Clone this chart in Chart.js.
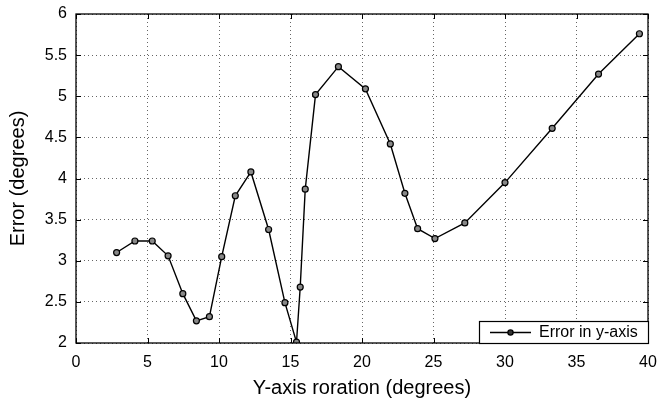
<!DOCTYPE html>
<html><head><meta charset="utf-8">
<script src="https://cdn.jsdelivr.net/npm/chart.js@4/dist/chart.umd.min.js"></script>
<style>html,body{margin:0;padding:0;background:#fff}#wrap{width:660px;height:400px}</style>
</head><body><div id="wrap"><canvas id="c" width="660" height="400"></canvas></div>
<script>
const rotationDeg = [2.84,4.12,5.33,6.44,7.47,8.42,9.33,10.19,11.14,12.23,13.47,14.61,15.42,15.68,16.03,16.75,18.35,20.24,21.98,23.0,23.89,25.10,27.19,30.0,33.3,36.54,39.4];
const errorY = [3.10,3.24,3.24,3.06,2.60,2.27,2.32,3.05,3.79,4.08,3.38,2.49,2.01,2.68,3.87,5.02,5.36,5.09,4.42,3.82,3.39,3.27,3.46,3.95,4.61,5.27,5.76];
const xTicks = [0,5,10,15,20,25,30,35,40];
const yTicks = [2,2.5,3,3.5,4,4.5,5,5.5,6];
const seriesLabel = 'Error in y-axis';
const xTitle = 'Y-axis roration (degrees)';
const yTitle = 'Error (degrees)';

const FONT = '"Liberation Sans", Arial, sans-serif';
const points = rotationDeg.map((x,i)=>({x, y: errorY[i]}));

const framePlugin = {
  id: 'frame',
  afterDraw(chart) {
    const {ctx, chartArea: a, scales} = chart;
    ctx.save();
    ctx.strokeStyle = '#000'; ctx.lineWidth = 1;
    ctx.beginPath();
    const L = 5;
    xTicks.forEach(v => {
      const px = Math.round(scales.x.getPixelForValue(v)) + 0.5;
      ctx.moveTo(px, a.bottom); ctx.lineTo(px, a.bottom - L);
      ctx.moveTo(px, a.top); ctx.lineTo(px, a.top + L);
    });
    yTicks.forEach(v => {
      const py = Math.round(scales.y.getPixelForValue(v)) + 0.5;
      ctx.moveTo(a.left, py); ctx.lineTo(a.left + L, py);
      ctx.moveTo(a.right, py); ctx.lineTo(a.right - L, py);
    });
    ctx.stroke();
    ctx.lineWidth = 1.3;
    ctx.strokeRect(a.left, a.top, a.right - a.left, a.bottom - a.top);
    // legend
    const bw = 169, bh = 22;
    const bx = a.right - bw, by = a.bottom - bh;
    ctx.fillStyle = '#fff';
    ctx.fillRect(bx, by, bw, bh);
    ctx.lineWidth = 1.2;
    ctx.strokeRect(bx + 0.5, by + 0.5, bw, bh);
    const cy = by + bh / 2 + 0.5;
    ctx.lineWidth = 1.3;
    ctx.beginPath(); ctx.moveTo(bx + 11, cy); ctx.lineTo(bx + 52, cy); ctx.stroke();
    ctx.beginPath(); ctx.arc(bx + 31.5, cy, 2.6, 0, Math.PI * 2);
    ctx.fillStyle = '#333'; ctx.fill(); ctx.stroke();
    ctx.fillStyle = '#000';
    ctx.font = '16px ' + FONT;
    ctx.textBaseline = 'middle'; ctx.textAlign = 'left';
    ctx.fillText(seriesLabel, bx + 60, cy);
    ctx.restore();
  }
};

new Chart(document.getElementById('c'), {
  type: 'scatter',
  data: { datasets: [{
    label: seriesLabel,
    data: points,
    showLine: true,
    borderColor: '#000',
    borderWidth: 1.4,
    pointRadius: 3,
    pointBorderWidth: 1.2,
    pointBorderColor: '#000',
    pointBackgroundColor: '#888',
    tension: 0
  }]},
  options: {
    responsive: false,
    animation: false,
    devicePixelRatio: 1,
    layout: { padding: { top: 14, right: 12, left: 0, bottom: 0 } },
    plugins: { legend: { display: false }, tooltip: { enabled: false } },
    scales: {
      x: {
        type: 'linear', min: 0, max: 40,
        afterFit(s) { s.height = 57; s.paddingLeft = 0; s.paddingRight = 0; },
        afterBuildTicks(s) { s.ticks = xTicks.map(v => ({value: v})); },
        grid: { color: '#666', lineWidth: 1, drawTicks: false },
        border: { display: false, dash: [1, 3] },
        ticks: { color: '#000', font: { family: FONT, size: 16 }, padding: 10, maxRotation: 0, callback: v => String(v) },
        title: { display: true, text: xTitle, color: '#000', font: { family: FONT, size: 20 }, padding: { top: 4, bottom: 0 } }
      },
      y: {
        type: 'linear', min: 2, max: 6,
        afterFit(s) { s.width = 76; s.paddingTop = 0; s.paddingBottom = 0; },
        afterBuildTicks(s) { s.ticks = yTicks.map(v => ({value: v})); },
        grid: { color: '#666', lineWidth: 1, drawTicks: false },
        border: { display: false, dash: [1, 3] },
        ticks: { color: '#000', font: { family: FONT, size: 16 }, padding: 9, callback: v => String(v) },
        title: { display: true, text: yTitle, color: '#000', font: { family: FONT, size: 20 }, padding: { top: 6, bottom: 0 } }
      }
    }
  },
  plugins: [framePlugin]
});
</script>
</body></html>
